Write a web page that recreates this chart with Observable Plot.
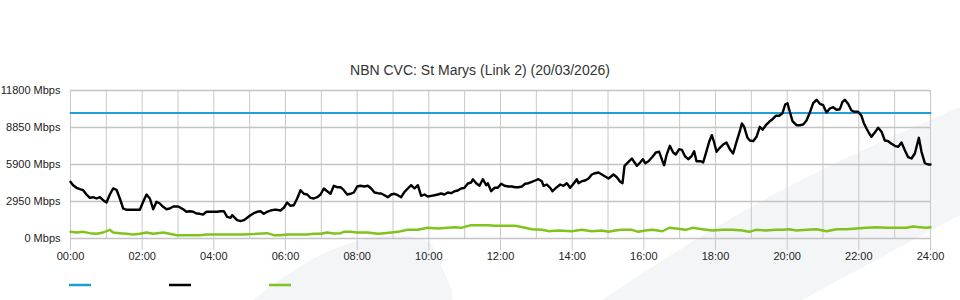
<!DOCTYPE html>
<html>
<head>
<meta charset="utf-8">
<script src="https://cdn.jsdelivr.net/npm/d3@7"></script>
<script src="https://cdn.jsdelivr.net/npm/@observablehq/plot@0.6"></script>
<style>
  body { margin: 0; background: #fff; font-family: "Liberation Sans", Arial, sans-serif; }
  #wrap { position: relative; width: 960px; height: 300px; overflow: hidden; }
  #bg { position: absolute; left: 0; top: 0; }
  #title { position: absolute; top: 62px; left: 0; width: 960px; text-align: center; font-size: 14px; color: #333; }
  #chart { position: absolute; left: 0; top: 79px; }
  #legend { position: absolute; left: 0; top: 278px; }
</style>
</head>
<body>
<div id="wrap">
  <svg id="bg" width="960" height="300">
    <path d="M253,300 C290,270 330,245 370,238 C400,233 425,236 432,245 L452,290 L452,300 Z" fill="#f4f5f7"/>
    <path d="M602,300 C660,262 720,222 786,188 C850,155 900,133 960,107 L960,215 L913,240 L802,300 Z" fill="#f4f5f7"/>
  </svg>
  <div id="title"></div>
  <div id="chart"></div>
  <div id="legend"></div>
</div>
<script>
const titleText = "NBN CVC: St Marys (Link 2) (20/03/2026)";
const xTicks = [0, 2, 4, 6, 8, 10, 12, 14, 16, 18, 20, 22, 24];
const xGrid = [0,1,2,3,4,5,6,7,8,9,10,11,12,13,14,15,16,17,18,19,20,21,22,23,24];
const yTicks = [0, 2950, 5900, 8850, 11800];
const capacityMbps = 10000;
const seriesNames = ["", "", ""];

const trafficHours = [0,0.074,0.167,0.26,0.353,0.447,0.54,0.633,0.726,0.819,0.912,1.005,1.098,1.19,1.284,1.377,1.47,1.563,1.656,1.749,1.842,1.935,2.028,2.121,2.214,2.307,2.4,2.493,2.586,2.679,2.772,2.865,3.005,3.144,3.237,3.33,3.423,3.516,3.609,3.702,3.795,3.888,3.981,4.093,4.186,4.279,4.372,4.465,4.512,4.558,4.651,4.744,4.837,4.93,5.023,5.116,5.209,5.302,5.395,5.488,5.581,5.674,5.767,5.86,5.953,6.046,6.14,6.232,6.326,6.419,6.512,6.605,6.698,6.79,6.884,6.977,7.07,7.163,7.256,7.349,7.442,7.535,7.628,7.721,7.814,7.907,8.0,8.093,8.205,8.298,8.391,8.484,8.577,8.67,8.763,8.856,8.949,9.042,9.135,9.228,9.321,9.414,9.507,9.6,9.693,9.786,9.879,9.972,10.065,10.158,10.251,10.344,10.437,10.53,10.623,10.716,10.809,10.902,10.995,11.088,11.181,11.228,11.321,11.414,11.507,11.6,11.646,11.74,11.833,11.926,12.019,12.112,12.223,12.316,12.409,12.502,12.595,12.688,12.781,12.874,12.967,13.06,13.153,13.2,13.293,13.386,13.451,13.572,13.665,13.758,13.851,13.944,14.037,14.13,14.177,14.27,14.363,14.456,14.549,14.642,14.735,14.828,14.921,15.014,15.154,15.247,15.34,15.405,15.461,15.572,15.665,15.805,15.898,15.972,16.037,16.13,16.242,16.335,16.428,16.521,16.567,16.633,16.726,16.819,16.893,16.986,17.06,17.153,17.246,17.339,17.405,17.47,17.591,17.656,17.749,17.823,17.898,17.963,18.028,18.121,18.214,18.307,18.4,18.493,18.586,18.679,18.735,18.8,18.893,18.958,19.051,19.144,19.237,19.312,19.405,19.498,19.591,19.684,19.777,19.87,19.944,20.009,20.074,20.149,20.26,20.353,20.447,20.54,20.633,20.726,20.819,20.912,21.005,21.098,21.19,21.284,21.377,21.47,21.544,21.61,21.7,21.795,21.888,21.98,22.074,22.14,22.214,22.29,22.353,22.446,22.54,22.633,22.726,22.819,22.912,23.005,23.098,23.191,23.284,23.377,23.47,23.563,23.675,23.749,23.842,23.935,24.0];
const trafficMbps = [4521,4250,4042,3931,3851,3508,3245,3293,3189,3293,3054,2870,3508,3987,3883,3189,2392,2288,2288,2288,2288,2288,2926,3508,3189,2336,2926,2791,2527,2336,2392,2551,2551,2336,2129,2177,2129,1993,1969,1914,2129,2129,2129,2129,2177,2177,1730,1650,1858,1730,1459,1379,1459,1650,1858,2017,2129,2177,1969,2129,2232,2288,2288,2232,2448,2870,2607,2655,3189,3851,3564,3508,3245,3189,3293,3508,3987,3771,3564,4202,4090,4090,3851,3508,3564,3668,4146,4202,4146,4202,3987,3668,3612,3588,3452,3293,3508,3564,3452,3293,3723,3987,4250,3987,4250,3404,3508,3349,3404,3452,3508,3588,3508,3668,3612,3771,3827,3987,4042,4385,4465,4728,4409,4202,4728,4250,4409,3771,4042,4042,4361,4202,4146,4146,4090,4090,4146,4361,4409,4521,4624,4728,4569,4202,4305,4042,3771,4090,4305,4202,4409,4042,4361,4728,4409,4569,4624,4784,5103,5206,5262,5103,4943,4784,5103,4887,4521,4409,5796,6115,6378,5796,6059,6323,6004,6163,6514,6857,6913,6163,5844,6642,7391,6857,6697,7120,7072,6538,6323,6594,6960,6163,6163,6059,6960,7710,8236,7654,6913,7231,7495,7654,7120,6777,7710,8555,9169,8906,8029,7814,7758,8109,8906,8667,9033,9305,9512,9783,9783,9990,10684,10787,10102,9352,9033,9033,9089,9408,10046,10787,11059,10740,10628,10046,10365,10469,10261,10309,10899,11059,10740,10205,10102,10102,9783,9193,8770,8372,8109,8451,8826,8507,7814,7758,7550,7391,7311,7654,7040,6482,6378,6777,8029,6913,6004,5900,5900];

const uploadHours = [0,0.167,0.353,0.54,0.726,0.912,1.098,1.19,1.377,1.563,1.749,1.935,2.121,2.307,2.586,2.772,2.958,3.237,3.609,3.795,3.981,4.372,4.837,5.209,5.488,5.674,5.86,6.046,6.326,6.605,6.79,6.977,7.163,7.349,7.535,7.628,7.814,8.0,8.298,8.577,8.763,8.949,9.135,9.414,9.693,9.972,10.251,10.53,10.716,10.902,11.181,11.46,11.646,11.833,12.112,12.409,12.688,12.874,13.153,13.34,13.619,13.991,14.27,14.549,14.828,15.014,15.2,15.386,15.665,15.851,16.037,16.242,16.521,16.708,16.893,17.172,17.358,17.637,17.916,18.195,18.474,18.754,18.94,19.126,19.405,19.684,19.87,20.056,20.26,20.54,20.819,21.098,21.377,21.656,21.935,22.214,22.493,22.772,23.05,23.33,23.516,23.702,23.888,24.0];
const uploadMbps = [534,478,534,423,375,478,694,478,423,375,319,375,478,375,478,375,263,263,263,319,319,319,319,375,423,263,263,319,319,319,375,375,478,399,423,534,534,478,478,375,423,478,534,694,694,853,797,853,901,853,1060,1060,1060,1013,1013,1013,853,741,694,582,638,582,694,582,638,534,638,694,694,534,638,694,582,853,797,694,853,741,638,694,694,638,534,694,638,694,694,741,638,694,741,582,741,741,797,853,901,853,853,853,957,901,853,901];

const colors = ["#1e9fd8", "#000000", "#7fc31c"];

const traffic = trafficHours.map((h, i) => ({h, v: trafficMbps[i]}));
const upload = uploadHours.map((h, i) => ({h, v: uploadMbps[i]}));
const capacity = [{h: 0, v: capacityMbps}, {h: 24, v: capacityMbps}];

document.getElementById("title").textContent = titleText;

const fmtX = d => String(d).padStart(2, "0") + ":00";
const chart = Plot.plot({
  width: 960,
  height: 196,
  marginTop: 11,
  marginBottom: 37,
  marginLeft: 70,
  marginRight: 30,
  style: {fontSize: "11px", fontFamily: "'Liberation Sans', Arial, sans-serif", background: "transparent", overflow: "visible"},
  x: {type: "linear", domain: [0, 24]},
  y: {domain: [0, 11800]},
  marks: [
    Plot.ruleX(xGrid, {stroke: "#c8c8c8", strokeWidth: 1}),
    Plot.ruleY(yTicks, {stroke: "#c4c4c4", strokeWidth: 1.5}),
    Plot.axisY(yTicks, {tickSize: 0, tickPadding: 10, tickFormat: d => d + " Mbps", label: null, fill: "#222"}),
    Plot.axisX(xTicks, {tickSize: 12, tickPadding: 2, tickFormat: fmtX, label: null, stroke: "#c8c8c8", fill: "#222"}),
    Plot.line(capacity, {x: "h", y: "v", stroke: colors[0], strokeWidth: 2}),
    Plot.line(upload, {x: "h", y: "v", stroke: colors[2], strokeWidth: 2.4}),
    Plot.line(traffic, {x: "h", y: "v", stroke: colors[1], strokeWidth: 2.4})
  ]
});
document.getElementById("chart").appendChild(chart);

// legend: three short coloured lines (labels are empty in the original)
const leg = d3.select("#legend").append("svg").attr("width", 960).attr("height", 16);
colors.forEach((c, i) => {
  const g = leg.append("g").attr("transform", `translate(${69 + i * 100},7)`);
  g.append("line").attr("x1", 0).attr("x2", 22).attr("y1", 0).attr("y2", 0).attr("stroke", c).attr("stroke-width", 2.5);
  g.append("text").attr("x", 28).attr("y", 4).attr("font-size", 11).text(seriesNames[i]);
});
</script>
</body>
</html>
